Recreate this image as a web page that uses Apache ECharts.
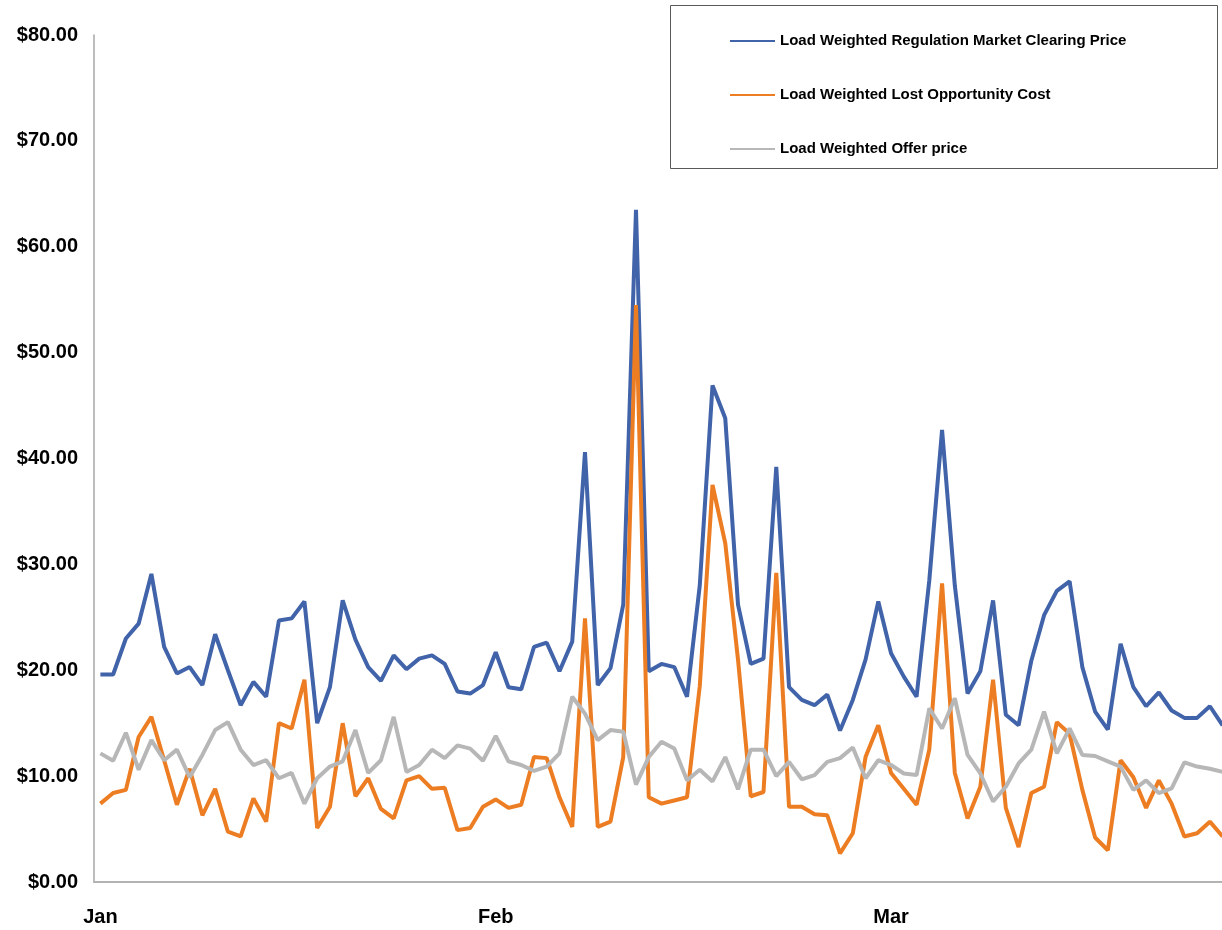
<!DOCTYPE html>
<html>
<head>
<meta charset="utf-8">
<script src="https://cdn.jsdelivr.net/npm/echarts@6/dist/echarts.min.js"></script>
<style>
  html, body { margin: 0; padding: 0; background: #ffffff; overflow: hidden; }
  #chart { width: 1240px; height: 930px; }
</style>
</head>
<body>
<div id="chart"></div>
<script>
// ---- Data (daily values) ----
const seriesNames = [
  'Load Weighted Regulation Market Clearing Price',
  'Load Weighted Lost Opportunity Cost',
  'Load Weighted Offer price'
];
const regulationPrice = [
  19.6, 19.6, 23.0, 24.4, 29.1, 22.2, 19.7, 20.3, 18.6, 23.4,
  20.0, 16.7, 18.9, 17.5, 24.7, 24.9, 26.5, 15.0, 18.4, 26.6,
  22.9, 20.3, 19.0, 21.4, 20.1, 21.1, 21.4, 20.6, 18.0, 17.8,
  18.6, 21.7, 18.4, 18.2, 22.2, 22.6, 19.9, 22.7, 40.6, 18.6,
  20.2, 26.2, 63.5, 19.9, 20.6, 20.3, 17.5, 28.0, 46.9, 43.8,
  26.2, 20.6, 21.1, 39.2, 18.4, 17.2, 16.7, 17.7, 14.3, 17.2,
  21.0, 26.5, 21.6, 19.4, 17.5, 28.5, 42.7, 28.0, 17.8, 19.9,
  26.6, 15.8, 14.8, 20.9, 25.2, 27.5, 28.4, 20.3, 16.1, 14.4,
  22.5, 18.4, 16.6, 17.9, 16.2, 15.5, 15.5, 16.6, 14.8
];
const lostOpportunityCost = [
  7.4, 8.4, 8.7, 13.7, 15.6, 11.5, 7.3, 10.7, 6.3, 8.8,
  4.75, 4.3, 7.9, 5.7, 15.0, 14.5, 19.1, 5.1, 7.1, 15.0,
  8.1, 9.8, 6.9, 6.0, 9.6, 10.0, 8.8, 8.9, 4.9, 5.1,
  7.1, 7.8, 7.0, 7.3, 11.8, 11.7, 8.0, 5.2, 24.9, 5.2,
  5.7, 11.8, 54.5, 8.0, 7.4, 7.7, 8.0, 18.5, 37.5, 32.0,
  21.0, 8.1, 8.5, 29.2, 7.1, 7.1, 6.4, 6.3, 2.7, 4.6,
  11.8, 14.8, 10.3, 8.8, 7.3, 12.5, 28.2, 10.3, 6.0, 9.0,
  19.1, 7.0, 3.3, 8.4, 9.0, 15.1, 14.0, 8.7, 4.2, 3.0,
  11.5, 9.9, 7.0, 9.6, 7.4, 4.3, 4.6, 5.7, 4.3
];
const offerPrice = [
  12.15, 11.45, 14.1, 10.6, 13.4, 11.5, 12.5, 9.9, 12.0, 14.35,
  15.1, 12.5, 11.05, 11.5, 9.8, 10.3, 7.4, 9.8, 10.9, 11.4,
  14.35, 10.3, 11.5, 15.6, 10.4, 11.05, 12.5, 11.7, 12.9, 12.6,
  11.45, 13.8, 11.4, 11.05, 10.5, 10.9, 12.15, 17.5, 15.9, 13.4,
  14.35, 14.2, 9.2, 11.8, 13.25, 12.6, 9.6, 10.6, 9.5, 11.8,
  8.75, 12.5, 12.5, 10.0, 11.35, 9.7, 10.1, 11.35, 11.7, 12.7,
  9.8, 11.5, 11.05, 10.25, 10.1, 16.4, 14.5, 17.35, 12.0, 10.25,
  7.6, 9.0, 11.2, 12.5, 16.1, 12.15, 14.5, 12.0, 11.9, 11.4,
  10.9, 8.7, 9.6, 8.4, 8.85, 11.3, 10.9, 10.7, 10.4
];
const monthLabels = ['Jan', 'Feb', 'Mar', 'Apr'];
const startDate = '2024-01-01';

// categories: one per day
const categories = [];
(function () {
  const d0 = new Date(startDate + 'T00:00:00Z');
  for (let i = 0; i < regulationPrice.length; i++) {
    const d = new Date(d0.getTime() + i * 86400000);
    categories.push(d.toISOString().slice(0, 10));
  }
})();

const chart = echarts.init(document.getElementById('chart'), null, { renderer: 'canvas' });
const FONT = '"Liberation Sans", Arial, sans-serif';

chart.setOption({
  backgroundColor: '#ffffff',
  animation: false,
  color: ['#4163a9', '#ed7d22', '#b7b7b7'],
  grid: { left: 94, top: 35, width: 1135, bottom: 48, containLabel: false },
  legend: {
    orient: 'vertical',
    left: 725,
    top: 26,
    icon: 'rect',
    itemWidth: 45,
    itemHeight: 2,
    itemGap: 34,
    textStyle: {
      fontFamily: FONT, fontWeight: 'bold', fontSize: 15,
      color: '#000000', lineHeight: 20
    },
    data: seriesNames
  },
  graphic: [{
    type: 'rect',
    z: 1,
    shape: { x: 670.5, y: 5.5, width: 547, height: 163 },
    style: { fill: '#ffffff', stroke: '#595959', lineWidth: 1 }
  }],
  xAxis: {
    type: 'category',
    boundaryGap: true,
    data: categories,
    axisLine: { show: true, lineStyle: { color: '#b3b3b3', width: 2 } },
    axisTick: { show: false },
    splitLine: { show: false },
    axisLabel: {
      interval: 30,
      margin: 25,
      fontFamily: FONT, fontWeight: 'bold', fontSize: 20, color: '#000000',
      formatter: function (v) {
        const m = parseInt(v.slice(5, 7), 10) - 1;
        return monthLabels[m];
      }
    }
  },
  yAxis: {
    type: 'value',
    min: 0, max: 80, interval: 10,
    axisLine: { show: true, lineStyle: { color: '#a6a6a6', width: 1.5 } },
    axisTick: { show: false },
    splitLine: { show: false },
    axisLabel: {
      margin: 16,
      fontFamily: FONT, fontWeight: 'bold', fontSize: 20, color: '#000000',
      formatter: function (v) { return '$' + v.toFixed(2); }
    }
  },
  series: [
    { name: seriesNames[0], type: 'line', data: regulationPrice, showSymbol: false, lineStyle: { width: 4 }, z: 3 },
    { name: seriesNames[1], type: 'line', data: lostOpportunityCost, showSymbol: false, lineStyle: { width: 4 }, z: 4 },
    { name: seriesNames[2], type: 'line', data: offerPrice, showSymbol: false, lineStyle: { width: 4 }, z: 5 }
  ]
});
</script>
</body>
</html>
